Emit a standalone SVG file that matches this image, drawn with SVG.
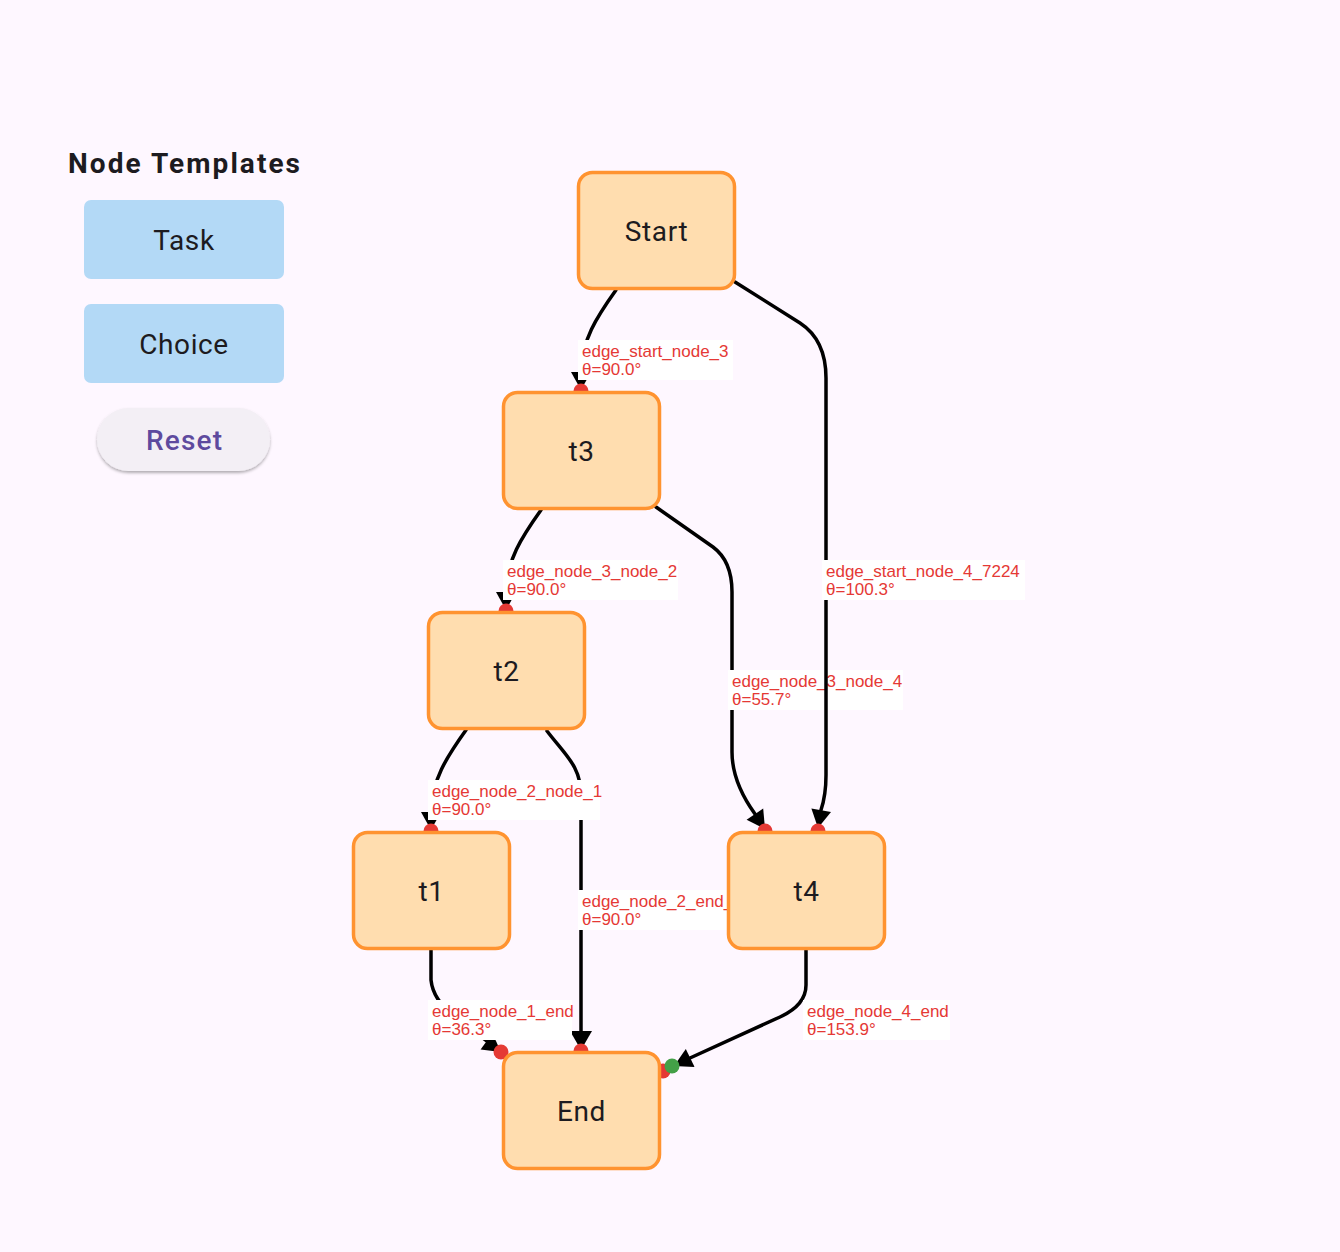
<svg xmlns="http://www.w3.org/2000/svg" width="1340" height="1252" viewBox="0 0 1340 1252">
<defs>
<style>
.node rect{fill:#FFDDAF;stroke:#FF9330;stroke-width:3.5}
.node text{font-family:Roboto,"Liberation Sans",sans-serif;font-size:28px;fill:#1d1b20;letter-spacing:0.6px;text-anchor:middle;dominant-baseline:central}
.edge{fill:none;stroke:#000;stroke-width:3.5;stroke-linecap:round;stroke-linejoin:round}
.head{fill:#000}
.lbox{fill:#fff}
.ltxt{font-family:"Liberation Sans",Arial,sans-serif;font-size:17px;fill:#E53935}
.dot{fill:#E53935}
.gdot{fill:#43A047}
.tpl rect{fill:#B3D9F6}
.tpl text{font-family:Roboto,"Liberation Sans",sans-serif;font-size:28px;fill:#1d1b20;letter-spacing:0.6px;text-anchor:middle;dominant-baseline:central}
</style>
<filter id="sh" x="-20%" y="-30%" width="140%" height="170%">
<feDropShadow dx="0" dy="2" stdDeviation="1.6" flood-color="#000" flood-opacity="0.3"/>
</filter>
</defs>
<rect width="1340" height="1252" fill="#FEF7FF"/>

<g id="panel">
<text x="68" y="173" font-family="Roboto,'Liberation Sans',sans-serif" font-size="28" font-weight="bold" fill="#1d1b20" textLength="232" lengthAdjust="spacing">Node Templates</text>
<g id="tpl-task" class="tpl"><rect x="84" y="200" width="200" height="79" rx="7"/><text x="184" y="240">Task</text></g>
<g id="tpl-choice" class="tpl"><rect x="84" y="304" width="200" height="79" rx="7"/><text x="184" y="344">Choice</text></g>
<g id="reset"><rect x="97" y="408" width="173" height="63" rx="31.5" fill="#F3EFF5" filter="url(#sh)"/><text x="146" y="440" font-family="Roboto,'Liberation Sans',sans-serif" font-size="28" font-weight="500" fill="#5E4A9E" dominant-baseline="central" textLength="76" lengthAdjust="spacing">Reset</text></g>
</g>

<g id="connectors">
<g id="edge_node_2_end">
<path class="edge" d="M547,731 C566,756 581,766 581,796 L581,1032"/>
<polygon class="head" points="581,1050 570,1031 592,1031"/>
<rect class="lbox" x="578" y="890" width="160" height="40"/>
<text class="ltxt" x="582" y="907">edge_node_2_end_</text><text class="ltxt" x="582" y="925">θ=90.0°</text>
</g>
<g id="edge_node_2_node_1">
<path class="edge" d="M466,730 C446,758 432,780 431,812"/>
<polygon class="head" points="431,830 421,812 441,812"/>
<rect class="lbox" x="428" y="780" width="172" height="40"/>
<text class="ltxt" x="432" y="797">edge_node_2_node_1</text><text class="ltxt" x="432" y="815">θ=90.0°</text>
</g>
<g id="edge_start_node_3">
<path class="edge" d="M616,290 C596,318 582,340 581,372"/>
<polygon class="head" points="581,390 571,372 591,372"/>
<rect class="lbox" x="578" y="340" width="155" height="40"/>
<text class="ltxt" x="582" y="357">edge_start_node_3</text><text class="ltxt" x="582" y="375">θ=90.0°</text>
</g>
<g id="edge_node_3_node_2">
<path class="edge" d="M541,510 C521,538 507,560 506,592"/>
<polygon class="head" points="506,610 496,592 516,592"/>
<rect class="lbox" x="503" y="560" width="175" height="40"/>
<text class="ltxt" x="507" y="577">edge_node_3_node_2</text><text class="ltxt" x="507" y="595">θ=90.0°</text>
</g>
<g id="edge_node_3_node_4">
<path class="edge" d="M656,507 L713,547 Q732,561 732,592 L732,752 Q732,782 755,814"/>
<polygon class="head" points="765,829 746.6,819.7 763.2,808.5"/>
<rect class="lbox" x="728" y="670" width="175" height="40"/>
<text class="ltxt" x="732" y="687">edge_node_3_node_4</text><text class="ltxt" x="732" y="705">θ=55.7°</text>
</g>
<g id="edge_start_node_4_7224">
<path class="edge" d="M735,282 L800,323 Q826,340 826,378 L826,775 Q826,795 821,810"/>
<polygon class="head" points="818,828 811.4,808.5 831,812.1"/>
<rect class="lbox" x="822" y="560" width="203" height="40"/>
<text class="ltxt" x="826" y="577">edge_start_node_4_7224</text><text class="ltxt" x="826" y="595">θ=100.3°</text>
</g>
<g id="edge_node_1_end">
<path class="edge" d="M431,950 L431,980 Q433,1000 455,1017 L487,1041"/>
<polygon class="head" points="501,1052 480.6,1049.4 492.4,1033.2"/>
<rect class="lbox" x="428" y="1000" width="144" height="40"/>
<text class="ltxt" x="432" y="1017">edge_node_1_end</text><text class="ltxt" x="432" y="1035">θ=36.3°</text>
</g>
<g id="edge_node_4_end">
<path class="edge" d="M806,950 L806,985 Q806,1005 780,1017 L690,1058"/>
<polygon class="head" points="674,1066 685.8,1049.1 694.6,1067.1"/>
<rect class="lbox" x="803" y="1000" width="147" height="40"/>
<text class="ltxt" x="807" y="1017">edge_node_4_end</text><text class="ltxt" x="807" y="1035">θ=153.9°</text>
</g>

<g id="ports">
<circle class="dot" cx="581" cy="391" r="7.5"/>
<circle class="dot" cx="506" cy="611" r="7.5"/>
<circle class="dot" cx="431" cy="831" r="7.5"/>
<circle class="dot" cx="765" cy="831" r="7.5"/>
<circle class="dot" cx="818" cy="831" r="7.5"/>
<circle class="dot" cx="581" cy="1051" r="7.5"/>
<circle class="dot" cx="501" cy="1052" r="7.5"/>
<circle class="dot" cx="663" cy="1071" r="7.5"/>
<circle class="gdot" cx="672" cy="1066" r="7.5"/>
</g>
</g>

<g id="node_start" class="node"><rect x="578.5" y="172.5" width="156" height="116" rx="14"/><text x="656.5" y="231">Start</text></g>
<g id="node_3" class="node"><rect x="503.5" y="392.5" width="156" height="116" rx="14"/><text x="581.5" y="451">t3</text></g>
<g id="node_2" class="node"><rect x="428.5" y="612.5" width="156" height="116" rx="14"/><text x="506.5" y="671">t2</text></g>
<g id="node_1" class="node"><rect x="353.5" y="832.5" width="156" height="116" rx="14"/><text x="431.5" y="891">t1</text></g>
<g id="node_4" class="node"><rect x="728.5" y="832.5" width="156" height="116" rx="14"/><text x="806.5" y="891">t4</text></g>
<g id="node_end" class="node"><rect x="503.5" y="1052.5" width="156" height="116" rx="14"/><text x="581.5" y="1111">End</text></g>
</svg>
